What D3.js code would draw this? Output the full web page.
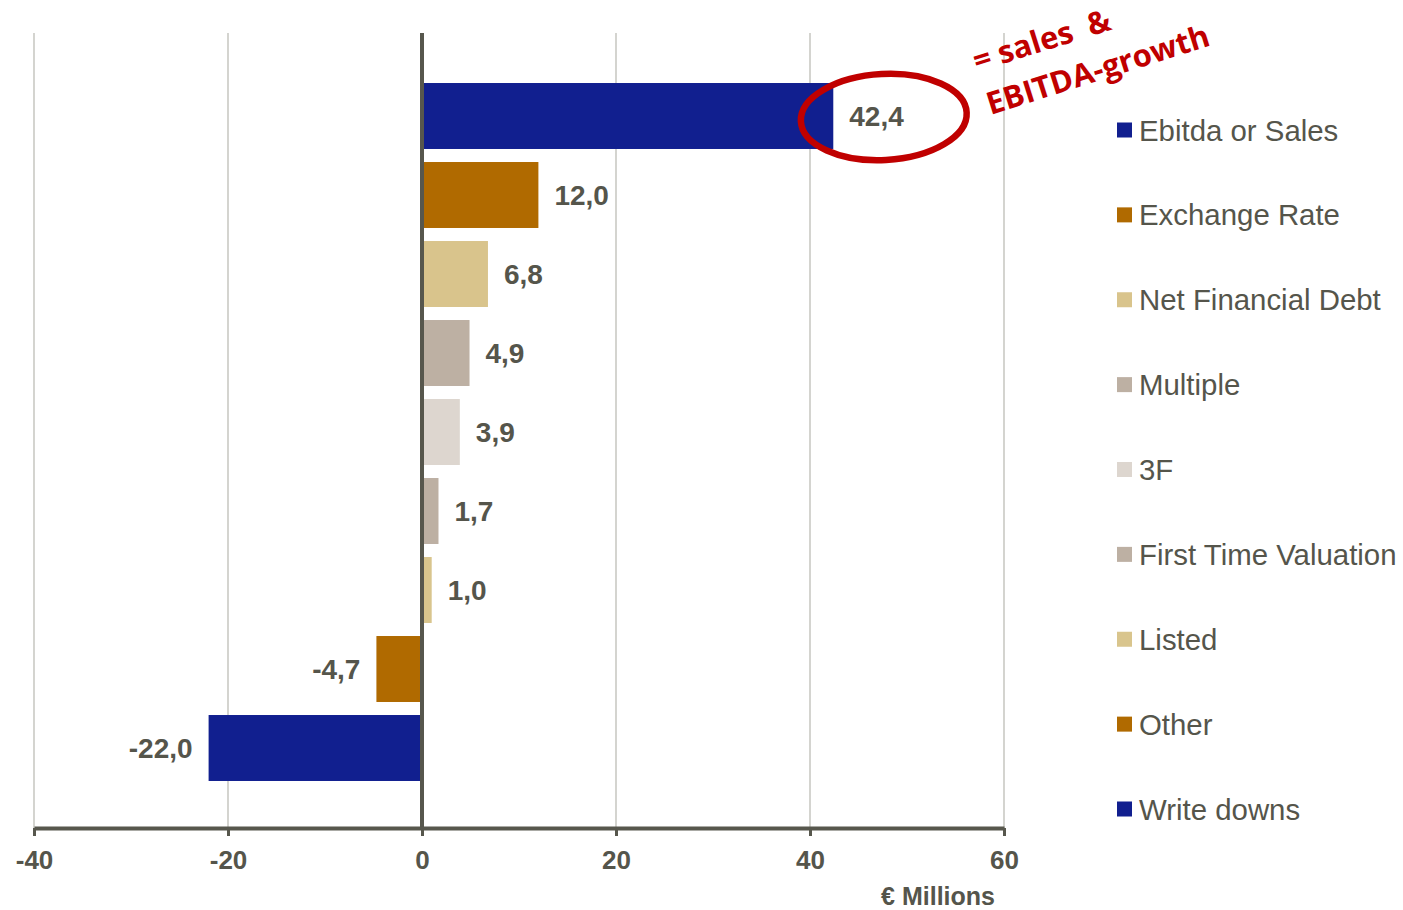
<!DOCTYPE html>
<html>
<head>
<meta charset="utf-8">
<script src="https://cdn.jsdelivr.net/npm/d3@7/dist/d3.min.js"></script>
<style>
  html, body { margin: 0; padding: 0; background: #ffffff; }
  svg { display: block; }
</style>
</head>
<body>
<script>
// Contributions to value change, € millions
const categories = ["Ebitda or Sales", "Exchange Rate", "Net Financial Debt", "Multiple", "3F",
                    "First Time Valuation", "Listed", "Other", "Write downs"];
const values = [42.4, 12.0, 6.8, 4.9, 3.9, 1.7, 1.0, -4.7, -22.0];
const colors = ["#111F8F", "#B06A00", "#D9C48C", "#BDB0A3", "#DDD6CF",
                "#BDB0A3", "#D9C58D", "#B06A00", "#111F8F"];
const xTicks = [-40, -20, 0, 20, 40, 60];
const axisTitle = "€ Millions";
const noteLines = ["= sales  &", "EBITDA-growth"];

const W = 1403, H = 910;
const textColor = "#55554B";
// decimal comma, plain hyphen for negatives
const fmt = v => (v < 0 ? "-" : "") + Math.abs(v).toFixed(1).replace(".", ",");

const svg = d3.select("body").append("svg").attr("width", W).attr("height", H);

const x = d3.scaleLinear().domain([-40, 60]).range([34, 1004]);
const plotTop = 33, plotBottom = 828;
const y = d3.scaleBand().domain(categories).range([76.5, 787.5])
  .paddingInner(0.165).paddingOuter(0.0825);

// vertical gridlines
svg.append("g").selectAll("line").data(xTicks.filter(t => t !== 0)).join("line")
  .attr("x1", d => x(d)).attr("x2", d => x(d))
  .attr("y1", plotTop).attr("y2", plotBottom)
  .attr("stroke", "#B8B8B0").attr("stroke-width", 1.2);

// bars
svg.append("g").selectAll("rect").data(values).join("rect")
  .attr("x", d => Math.min(x(0), x(d)))
  .attr("width", d => Math.abs(x(d) - x(0)))
  .attr("y", (d, i) => y(categories[i]))
  .attr("height", y.bandwidth())
  .attr("fill", (d, i) => colors[i]);

// value labels
svg.append("g").selectAll("text").data(values).join("text")
  .attr("x", d => d >= 0 ? x(d) + 16 : x(d) - 16)
  .attr("y", (d, i) => y(categories[i]) + y.bandwidth() / 2)
  .attr("dy", "0.36em")
  .attr("text-anchor", d => d >= 0 ? "start" : "end")
  .attr("font-family", "Liberation Sans, Arial, sans-serif")
  .attr("font-weight", "bold")
  .attr("font-size", 28)
  .attr("fill", textColor)
  .text(fmt);

// zero line
svg.append("line")
  .attr("x1", x(0)).attr("x2", x(0)).attr("y1", plotTop).attr("y2", plotBottom)
  .attr("stroke", "#57574D").attr("stroke-width", 4);

// x axis
const xAxis = svg.append("g").attr("transform", `translate(0,${plotBottom})`)
  .call(d3.axisBottom(x).tickValues(xTicks).tickSize(8).tickSizeOuter(0).tickPadding(15)
    .tickFormat(d => (d < 0 ? "-" : "") + Math.abs(d)));
xAxis.select(".domain").attr("stroke", "#57574D").attr("stroke-width", 4);
xAxis.selectAll(".tick line").attr("stroke", "#57574D").attr("stroke-width", 3);
xAxis.selectAll(".tick text")
  .attr("font-family", "Liberation Sans, Arial, sans-serif")
  .attr("font-weight", "bold").attr("font-size", 26).attr("fill", textColor);

svg.append("text")
  .attr("x", 995).attr("y", 905)
  .attr("text-anchor", "end")
  .attr("font-family", "Liberation Sans, Arial, sans-serif")
  .attr("font-weight", "bold").attr("font-size", 25).attr("fill", textColor)
  .text(axisTitle);

// legend
const ly = d3.scalePoint().domain(categories).range([130, 809]);
const legend = svg.append("g").selectAll("g").data(categories).join("g")
  .attr("transform", d => `translate(1117,${ly(d)})`);
legend.append("rect").attr("x", 0).attr("y", -7.5).attr("width", 15).attr("height", 15)
  .attr("fill", (d, i) => colors[i]);
legend.append("text").attr("x", 22).attr("y", 0).attr("dy", "0.36em")
  .attr("font-family", "Liberation Sans, Arial, sans-serif")
  .attr("font-size", 29.4).attr("fill", textColor)
  .text(d => d);

// highlight ring around the top bar's label
const ringY = y(categories[0]) + y.bandwidth() / 2;
svg.append("ellipse")
  .attr("cx", x(47.6)).attr("cy", ringY + 1)
  .attr("rx", 83).attr("ry", 43)
  .attr("transform", `rotate(-3,${x(47.6)},${ringY})`)
  .attr("fill", "none").attr("stroke", "#C00000").attr("stroke-width", 6.5);

// note
const note = svg.append("text")
  .attr("transform", "translate(977,72) rotate(-17.5)")
  .attr("font-family", "Open Sans, Lato, sans-serif")
  .attr("font-weight", "bold").attr("font-size", 31).attr("fill", "#C00000");
note.append("tspan").attr("x", 0).attr("y", 0)
  .style("white-space", "pre").text(noteLines[0]);
note.append("tspan").attr("x", 0).attr("y", 45).text(noteLines[1]);
</script>
</body>
</html>
